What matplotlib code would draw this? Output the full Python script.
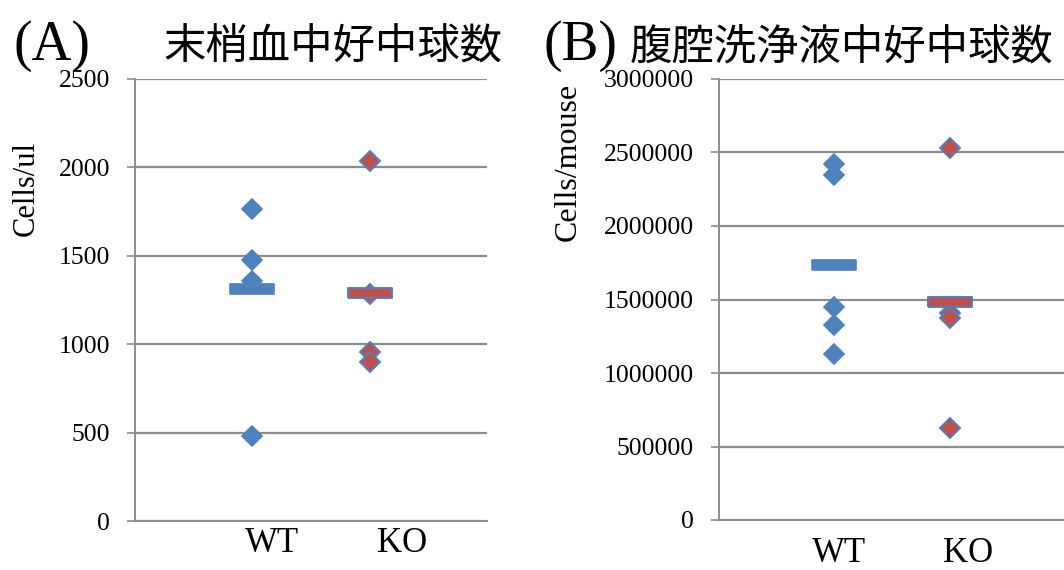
import matplotlib
matplotlib.use("Agg")
import matplotlib.pyplot as plt
from matplotlib.ticker import MultipleLocator, FuncFormatter

# ---- data -------------------------------------------------------------
groups = ["WT", "KO"]

# (A) peripheral blood neutrophils, cells/ul
blood_wt = [1764, 1476, 1358, 481]
blood_ko = [2038, 1283, 958, 902]
blood_mean = [1311, 1290]

# (B) peritoneal lavage neutrophils, cells/mouse
lavage_wt = [2423000, 2344000, 1448000, 1326000, 1127000]
lavage_ko = [2529000, 1405000, 1371000, 628000]
lavage_mean = [1735000, 1482000]

# ---- style ------------------------------------------------------------
BLUE = "#4F81BD"
RED = "#C0504D"
GRID = "#8C8C8C"
SERIF = ["Liberation Serif", "DejaVu Serif"]
CJK = ["Noto Sans CJK JP", "DejaVu Sans"]

# wide flat bar used for the group mean
BAR = [(-2.2, -0.5), (2.2, -0.5), (2.2, 0.5), (-2.2, 0.5), (-2.2, -0.5)]

fig = plt.figure(figsize=(10.64, 5.70), dpi=100)


def panel(rect, wt, ko, means, ymax, step, ylabel, label_size, label_xy,
          tick_x, tick_pad):
    ax = fig.add_axes(rect)
    ax.set_xlim(0, 3)
    ax.set_ylim(0, ymax)
    ax.yaxis.set_major_locator(MultipleLocator(step))
    ax.yaxis.set_major_formatter(FuncFormatter(lambda v, p: f"{int(round(v))}"))
    ax.grid(axis="y", color=GRID, linewidth=1.6)
    ax.set_axisbelow(True)
    for s in ("top", "right"):
        ax.spines[s].set_visible(False)
    for s in ("left", "bottom"):
        ax.spines[s].set_color(GRID)
        ax.spines[s].set_linewidth(1.4)
    ax.tick_params(axis="y", direction="out", length=6, width=1.2, color=GRID,
                   labelsize=18.5, pad=12)
    ax.tick_params(axis="x", length=0, labelsize=25, pad=tick_pad)
    for lab in ax.get_yticklabels():
        lab.set_family(SERIF)

    ax.plot([1] * len(wt), wt, linestyle="none", marker="D", markersize=10,
            markerfacecolor=BLUE, markeredgecolor=BLUE, markeredgewidth=1.2, zorder=3)
    ax.plot([1], [means[0]], linestyle="none", marker=BAR, markersize=32,
            markerfacecolor=BLUE, markeredgecolor=BLUE, markeredgewidth=1.2, zorder=4)
    ax.plot([2] * len(ko), ko, linestyle="none", marker="D", markersize=10,
            markerfacecolor=RED, markeredgecolor=BLUE, markeredgewidth=1.4, zorder=3)
    ax.plot([2], [means[1]], linestyle="none", marker=BAR, markersize=32,
            markerfacecolor=RED, markeredgecolor=BLUE, markeredgewidth=1.4, zorder=4)

    ax.set_xticks(tick_x)
    ax.set_xticklabels(groups, family=SERIF)

    ax.set_ylabel(ylabel, family=SERIF, fontsize=label_size)
    ax.yaxis.label.set(ha="center", va="center", rotation_mode="default")
    ax.yaxis.set_label_coords(*label_xy)
    return ax


panel([135 / 1064, 49 / 570, 352 / 1064, 442 / 570],
      blood_wt, blood_ko, blood_mean, 2500, 500, "Cells/ul", 22,
      (-0.31, 0.753), [1.17, 2.28], 4)
panel([719 / 1064, 50 / 570, 346 / 1064, 441 / 570],
      lavage_wt, lavage_ko, lavage_mean, 3000000, 500000, "Cells/mouse", 23,
      (-0.435, 0.812), [1.04, 2.16], 12)

# panel letters and titles
fig.text(13 / 1064, 1 - 60 / 570, "(A)", family=SERIF, fontsize=40,
         ha="left", va="baseline")
fig.text(163 / 1064, 1 - 48 / 570, "末梢血中好中球数", family=CJK, fontsize=30.5,
         ha="left", va="center")
fig.text(543 / 1064, 1 - 60 / 570, "(B)", family=SERIF, fontsize=40,
         ha="left", va="baseline")
fig.text(630 / 1064, 1 - 48 / 570, "腹腔洗浄液中好中球数", family=CJK, fontsize=30.5,
         ha="left", va="center")

fig.savefig("out.png", dpi=100)
